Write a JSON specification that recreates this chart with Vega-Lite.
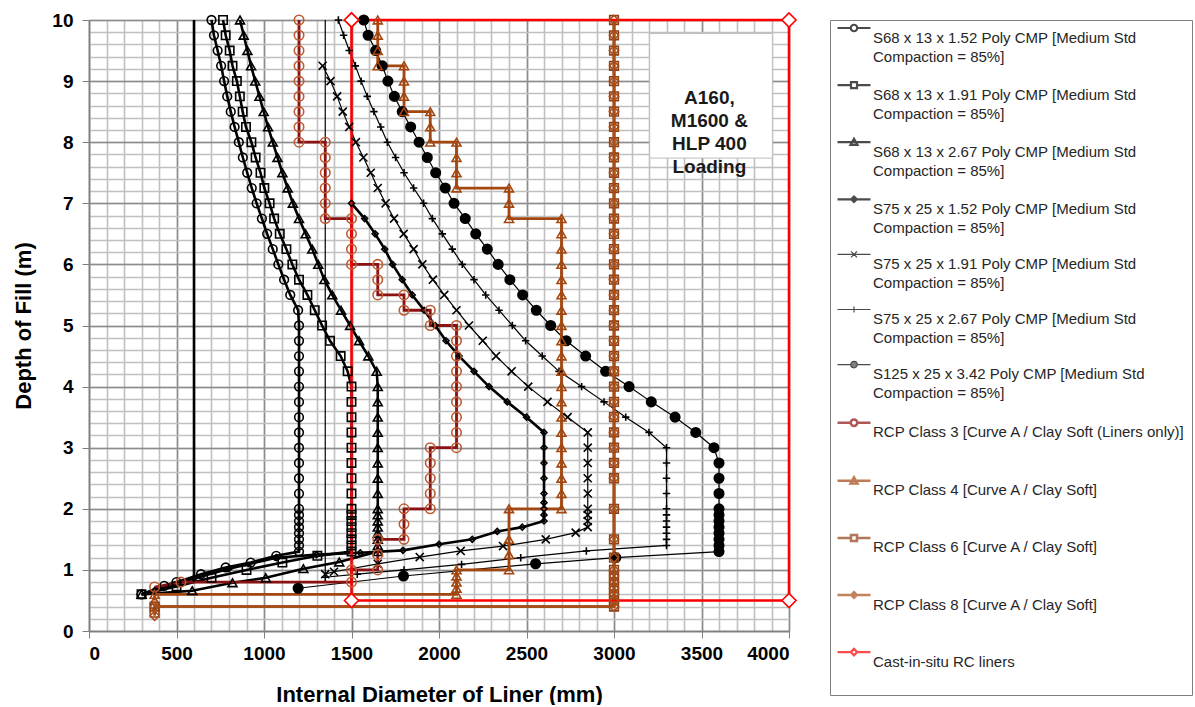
{
"$schema":"https://vega.github.io/schema/vega-lite/v6.json",
"width":700,"height":611,
"padding":{"left":12,"top":9,"right":0,"bottom":0},
"config":{"font":"Liberation Sans","view":{"stroke":null},"style":{"guide-label":{"lineHeight":19}}},
"datasets":{
"ann":[{"x":3204,"x2":3905,"y":9.78,"y2":7.74,"t":"A160,\nM1600 &\nHLP 400\nLoading","tx":3545,"ty":8.72}],
"pts":[
{"s":"a1","x":700,"y":10},{"s":"a1","x":714,"y":9.75},{"s":"a1","x":735,"y":9.5},{"s":"a1","x":755,"y":9.25},{"s":"a1","x":772,"y":9},{"s":"a1","x":790,"y":8.75},{"s":"a1","x":810,"y":8.5},{"s":"a1","x":832,"y":8.25},{"s":"a1","x":856,"y":8},{"s":"a1","x":879,"y":7.75},{"s":"a1","x":904,"y":7.5},{"s":"a1","x":930,"y":7.25},{"s":"a1","x":958,"y":7},{"s":"a1","x":988,"y":6.75},{"s":"a1","x":1018,"y":6.5},{"s":"a1","x":1050,"y":6.25},{"s":"a1","x":1082,"y":6},{"s":"a1","x":1115,"y":5.75},{"s":"a1","x":1150,"y":5.5},{"s":"a1","x":1195,"y":5.25},{"s":"a1","x":1200,"y":5},{"s":"a1","x":1200,"y":4.75},{"s":"a1","x":1200,"y":4.5},{"s":"a1","x":1200,"y":4.25},{"s":"a1","x":1200,"y":4},{"s":"a1","x":1200,"y":3.75},{"s":"a1","x":1200,"y":3.5},{"s":"a1","x":1200,"y":3.25},{"s":"a1","x":1200,"y":3},{"s":"a1","x":1200,"y":2.75},{"s":"a1","x":1200,"y":2.5},{"s":"a1","x":1200,"y":2.25},{"s":"a1","x":1200,"y":2},{"s":"a1","x":1200,"y":1.9},{"s":"a1","x":1200,"y":1.8},{"s":"a1","x":1200,"y":1.7},{"s":"a1","x":1200,"y":1.6},{"s":"a1","x":1200,"y":1.5},{"s":"a1","x":1200,"y":1.4},{"s":"a1","x":1200,"y":1.3},{"s":"a1","x":1070,"y":1.23},{"s":"a1","x":924,"y":1.12},{"s":"a1","x":781,"y":1.04},{"s":"a1","x":640,"y":0.93},{"s":"a1","x":500,"y":0.8},{"s":"a1","x":430,"y":0.74},{"s":"a1","x":300,"y":0.6},
{"s":"a2","x":766,"y":10},{"s":"a2","x":781,"y":9.75},{"s":"a2","x":804,"y":9.5},{"s":"a2","x":820,"y":9.25},{"s":"a2","x":845,"y":9},{"s":"a2","x":862,"y":8.75},{"s":"a2","x":878,"y":8.5},{"s":"a2","x":897,"y":8.25},{"s":"a2","x":928,"y":8},{"s":"a2","x":952,"y":7.75},{"s":"a2","x":980,"y":7.5},{"s":"a2","x":1002,"y":7.25},{"s":"a2","x":1032,"y":7},{"s":"a2","x":1058,"y":6.75},{"s":"a2","x":1090,"y":6.5},{"s":"a2","x":1128,"y":6.25},{"s":"a2","x":1162,"y":6},{"s":"a2","x":1200,"y":5.75},{"s":"a2","x":1248,"y":5.5},{"s":"a2","x":1290,"y":5.25},{"s":"a2","x":1332,"y":5},{"s":"a2","x":1377,"y":4.75},{"s":"a2","x":1438,"y":4.5},{"s":"a2","x":1478,"y":4.25},{"s":"a2","x":1500,"y":4},{"s":"a2","x":1500,"y":3.75},{"s":"a2","x":1500,"y":3.5},{"s":"a2","x":1500,"y":3.25},{"s":"a2","x":1500,"y":3},{"s":"a2","x":1500,"y":2.75},{"s":"a2","x":1500,"y":2.5},{"s":"a2","x":1500,"y":2.25},{"s":"a2","x":1500,"y":2},{"s":"a2","x":1500,"y":1.9},{"s":"a2","x":1500,"y":1.8},{"s":"a2","x":1500,"y":1.7},{"s":"a2","x":1500,"y":1.6},{"s":"a2","x":1500,"y":1.5},{"s":"a2","x":1500,"y":1.4},{"s":"a2","x":1500,"y":1.3},{"s":"a2","x":1305,"y":1.23},{"s":"a2","x":1105,"y":1.12},{"s":"a2","x":900,"y":1},{"s":"a2","x":700,"y":0.87},{"s":"a2","x":500,"y":0.73},{"s":"a2","x":300,"y":0.6},
{"s":"a3","x":863,"y":10},{"s":"a3","x":884,"y":9.75},{"s":"a3","x":905,"y":9.5},{"s":"a3","x":926,"y":9.25},{"s":"a3","x":950,"y":9},{"s":"a3","x":974,"y":8.75},{"s":"a3","x":998,"y":8.5},{"s":"a3","x":1023,"y":8.25},{"s":"a3","x":1050,"y":8},{"s":"a3","x":1077,"y":7.75},{"s":"a3","x":1105,"y":7.5},{"s":"a3","x":1135,"y":7.25},{"s":"a3","x":1165,"y":7},{"s":"a3","x":1200,"y":6.75},{"s":"a3","x":1238,"y":6.5},{"s":"a3","x":1276,"y":6.25},{"s":"a3","x":1310,"y":6},{"s":"a3","x":1345,"y":5.75},{"s":"a3","x":1390,"y":5.5},{"s":"a3","x":1440,"y":5.25},{"s":"a3","x":1492,"y":5},{"s":"a3","x":1543,"y":4.75},{"s":"a3","x":1596,"y":4.5},{"s":"a3","x":1644,"y":4.25},{"s":"a3","x":1650,"y":4},{"s":"a3","x":1650,"y":3.75},{"s":"a3","x":1650,"y":3.5},{"s":"a3","x":1650,"y":3.25},{"s":"a3","x":1650,"y":3},{"s":"a3","x":1650,"y":2.75},{"s":"a3","x":1650,"y":2.5},{"s":"a3","x":1650,"y":2.25},{"s":"a3","x":1650,"y":2},{"s":"a3","x":1650,"y":1.9},{"s":"a3","x":1650,"y":1.8},{"s":"a3","x":1650,"y":1.7},{"s":"a3","x":1650,"y":1.6},{"s":"a3","x":1650,"y":1.5},{"s":"a3","x":1650,"y":1.4},{"s":"a3","x":1650,"y":1.3},{"s":"a3","x":1430,"y":1.13},{"s":"a3","x":1225,"y":1.02},{"s":"a3","x":1010,"y":0.87},{"s":"a3","x":820,"y":0.79},{"s":"a3","x":590,"y":0.66},{"s":"a3","x":300,"y":0.6},
{"s":"a4","x":1500,"y":7},{"s":"a4","x":1575,"y":6.75},{"s":"a4","x":1635,"y":6.5},{"s":"a4","x":1690,"y":6.25},{"s":"a4","x":1735,"y":6},{"s":"a4","x":1790,"y":5.75},{"s":"a4","x":1847,"y":5.5},{"s":"a4","x":1915,"y":5.25},{"s":"a4","x":1978,"y":5},{"s":"a4","x":2040,"y":4.75},{"s":"a4","x":2115,"y":4.5},{"s":"a4","x":2200,"y":4.25},{"s":"a4","x":2286,"y":4},{"s":"a4","x":2390,"y":3.75},{"s":"a4","x":2500,"y":3.5},{"s":"a4","x":2600,"y":3.25},{"s":"a4","x":2600,"y":3},{"s":"a4","x":2600,"y":2.75},{"s":"a4","x":2600,"y":2.5},{"s":"a4","x":2600,"y":2.25},{"s":"a4","x":2600,"y":2.1},{"s":"a4","x":2600,"y":2},{"s":"a4","x":2600,"y":1.9},{"s":"a4","x":2600,"y":1.8},{"s":"a4","x":2476,"y":1.7},{"s":"a4","x":2333,"y":1.63},{"s":"a4","x":2190,"y":1.5},{"s":"a4","x":2000,"y":1.42},{"s":"a4","x":1794,"y":1.32},{"s":"a4","x":1550,"y":1.28},{"s":"a4","x":1300,"y":1.25},{"s":"a4","x":1070,"y":1.2},{"s":"a4","x":800,"y":1.02},{"s":"a4","x":600,"y":0.86},{"s":"a4","x":375,"y":0.66},
{"s":"a5","x":1335,"y":9.25},{"s":"a5","x":1380,"y":9},{"s":"a5","x":1418,"y":8.75},{"s":"a5","x":1450,"y":8.5},{"s":"a5","x":1487,"y":8.25},{"s":"a5","x":1525,"y":8},{"s":"a5","x":1568,"y":7.75},{"s":"a5","x":1610,"y":7.5},{"s":"a5","x":1650,"y":7.25},{"s":"a5","x":1695,"y":7},{"s":"a5","x":1743,"y":6.75},{"s":"a5","x":1798,"y":6.5},{"s":"a5","x":1855,"y":6.25},{"s":"a5","x":1905,"y":6},{"s":"a5","x":1965,"y":5.75},{"s":"a5","x":2030,"y":5.5},{"s":"a5","x":2100,"y":5.25},{"s":"a5","x":2171,"y":5},{"s":"a5","x":2250,"y":4.75},{"s":"a5","x":2326,"y":4.5},{"s":"a5","x":2415,"y":4.25},{"s":"a5","x":2510,"y":4},{"s":"a5","x":2620,"y":3.75},{"s":"a5","x":2735,"y":3.5},{"s":"a5","x":2850,"y":3.25},{"s":"a5","x":2850,"y":3},{"s":"a5","x":2850,"y":2.75},{"s":"a5","x":2850,"y":2.5},{"s":"a5","x":2850,"y":2.25},{"s":"a5","x":2850,"y":2},{"s":"a5","x":2850,"y":1.9},{"s":"a5","x":2850,"y":1.8},{"s":"a5","x":2850,"y":1.7},{"s":"a5","x":2781,"y":1.61},{"s":"a5","x":2610,"y":1.5},{"s":"a5","x":2366,"y":1.39},{"s":"a5","x":2124,"y":1.31},{"s":"a5","x":1890,"y":1.21},{"s":"a5","x":1650,"y":1.1},{"s":"a5","x":1400,"y":0.97},{"s":"a5","x":1350,"y":0.93},
{"s":"a6","x":1425,"y":10},{"s":"a6","x":1455,"y":9.75},{"s":"a6","x":1487,"y":9.5},{"s":"a6","x":1522,"y":9.25},{"s":"a6","x":1555,"y":9},{"s":"a6","x":1590,"y":8.75},{"s":"a6","x":1628,"y":8.5},{"s":"a6","x":1667,"y":8.25},{"s":"a6","x":1705,"y":8},{"s":"a6","x":1752,"y":7.75},{"s":"a6","x":1800,"y":7.5},{"s":"a6","x":1855,"y":7.25},{"s":"a6","x":1912,"y":7},{"s":"a6","x":1962,"y":6.75},{"s":"a6","x":2019,"y":6.5},{"s":"a6","x":2076,"y":6.25},{"s":"a6","x":2133,"y":6},{"s":"a6","x":2200,"y":5.75},{"s":"a6","x":2267,"y":5.5},{"s":"a6","x":2343,"y":5.25},{"s":"a6","x":2419,"y":5},{"s":"a6","x":2495,"y":4.75},{"s":"a6","x":2590,"y":4.5},{"s":"a6","x":2686,"y":4.25},{"s":"a6","x":2815,"y":4},{"s":"a6","x":2943,"y":3.75},{"s":"a6","x":3067,"y":3.5},{"s":"a6","x":3200,"y":3.25},{"s":"a6","x":3300,"y":3},{"s":"a6","x":3300,"y":2.75},{"s":"a6","x":3300,"y":2.5},{"s":"a6","x":3300,"y":2.25},{"s":"a6","x":3300,"y":2},{"s":"a6","x":3300,"y":1.9},{"s":"a6","x":3300,"y":1.8},{"s":"a6","x":3300,"y":1.7},{"s":"a6","x":3300,"y":1.6},{"s":"a6","x":3300,"y":1.5},{"s":"a6","x":3300,"y":1.4},{"s":"a6","x":2842,"y":1.31},{"s":"a6","x":2467,"y":1.2},{"s":"a6","x":2129,"y":1.09},{"s":"a6","x":1800,"y":1},{"s":"a6","x":1533,"y":0.93},{"s":"a6","x":1350,"y":0.88},
{"s":"a7","x":1570,"y":10},{"s":"a7","x":1595,"y":9.75},{"s":"a7","x":1638,"y":9.5},{"s":"a7","x":1676,"y":9.25},{"s":"a7","x":1708,"y":9},{"s":"a7","x":1745,"y":8.75},{"s":"a7","x":1790,"y":8.5},{"s":"a7","x":1838,"y":8.25},{"s":"a7","x":1886,"y":8},{"s":"a7","x":1933,"y":7.75},{"s":"a7","x":1981,"y":7.5},{"s":"a7","x":2036,"y":7.25},{"s":"a7","x":2086,"y":7},{"s":"a7","x":2150,"y":6.75},{"s":"a7","x":2210,"y":6.5},{"s":"a7","x":2276,"y":6.25},{"s":"a7","x":2338,"y":6},{"s":"a7","x":2405,"y":5.75},{"s":"a7","x":2478,"y":5.5},{"s":"a7","x":2556,"y":5.25},{"s":"a7","x":2638,"y":5},{"s":"a7","x":2727,"y":4.75},{"s":"a7","x":2838,"y":4.5},{"s":"a7","x":2952,"y":4.25},{"s":"a7","x":3086,"y":4},{"s":"a7","x":3213,"y":3.75},{"s":"a7","x":3349,"y":3.5},{"s":"a7","x":3467,"y":3.25},{"s":"a7","x":3571,"y":3},{"s":"a7","x":3600,"y":2.75},{"s":"a7","x":3600,"y":2.5},{"s":"a7","x":3600,"y":2.25},{"s":"a7","x":3600,"y":2},{"s":"a7","x":3600,"y":1.9},{"s":"a7","x":3600,"y":1.8},{"s":"a7","x":3600,"y":1.7},{"s":"a7","x":3600,"y":1.6},{"s":"a7","x":3600,"y":1.5},{"s":"a7","x":3600,"y":1.4},{"s":"a7","x":3600,"y":1.3},{"s":"a7","x":3010,"y":1.2},{"s":"a7","x":2552,"y":1.1},{"s":"a7","x":1797,"y":0.9},{"s":"a7","x":1195,"y":0.7},
{"s":"v1","x":600,"y":10},{"s":"v1","x":600,"y":0.8},{"s":"v2","x":1350,"y":10},{"s":"v2","x":1350,"y":0.93},
{"s":"b3","x":1200,"y":10},{"s":"b3","x":1200,"y":9.75},{"s":"b3","x":1200,"y":9.5},{"s":"b3","x":1200,"y":9.25},{"s":"b3","x":1200,"y":9},{"s":"b3","x":1200,"y":8.75},{"s":"b3","x":1200,"y":8.5},{"s":"b3","x":1200,"y":8.25},{"s":"b3","x":1200,"y":8},{"s":"b3","x":1350,"y":8},{"s":"b3","x":1350,"y":7.75},{"s":"b3","x":1350,"y":7.5},{"s":"b3","x":1350,"y":7.25},{"s":"b3","x":1350,"y":7},{"s":"b3","x":1350,"y":6.75},{"s":"b3","x":1500,"y":6.75},{"s":"b3","x":1500,"y":6.5},{"s":"b3","x":1500,"y":6.25},{"s":"b3","x":1500,"y":6},{"s":"b3","x":1650,"y":6},{"s":"b3","x":1650,"y":5.75},{"s":"b3","x":1650,"y":5.5},{"s":"b3","x":1800,"y":5.5},{"s":"b3","x":1800,"y":5.25},{"s":"b3","x":1950,"y":5.25},{"s":"b3","x":1950,"y":5},{"s":"b3","x":2100,"y":5},{"s":"b3","x":2100,"y":4.75},{"s":"b3","x":2100,"y":4.5},{"s":"b3","x":2100,"y":4.25},{"s":"b3","x":2100,"y":4},{"s":"b3","x":2100,"y":3.75},{"s":"b3","x":2100,"y":3.5},{"s":"b3","x":2100,"y":3.25},{"s":"b3","x":2100,"y":3},{"s":"b3","x":1950,"y":3},{"s":"b3","x":1950,"y":2.75},{"s":"b3","x":1950,"y":2.5},{"s":"b3","x":1950,"y":2.25},{"s":"b3","x":1950,"y":2},{"s":"b3","x":1800,"y":2},{"s":"b3","x":1800,"y":1.75},{"s":"b3","x":1800,"y":1.5},{"s":"b3","x":1650,"y":1.5},{"s":"b3","x":1650,"y":1.25},{"s":"b3","x":1650,"y":1},{"s":"b3","x":1500,"y":1},{"s":"b3","x":1500,"y":0.8},{"s":"b3","x":525,"y":0.8},{"s":"b3","x":375,"y":0.72},
{"s":"b4","x":1650,"y":10},{"s":"b4","x":1650,"y":9.75},{"s":"b4","x":1650,"y":9.5},{"s":"b4","x":1650,"y":9.25},{"s":"b4","x":1800,"y":9.25},{"s":"b4","x":1800,"y":9},{"s":"b4","x":1800,"y":8.75},{"s":"b4","x":1800,"y":8.5},{"s":"b4","x":1950,"y":8.5},{"s":"b4","x":1950,"y":8.25},{"s":"b4","x":1950,"y":8},{"s":"b4","x":2100,"y":8},{"s":"b4","x":2100,"y":7.75},{"s":"b4","x":2100,"y":7.5},{"s":"b4","x":2100,"y":7.25},{"s":"b4","x":2400,"y":7.25},{"s":"b4","x":2400,"y":7},{"s":"b4","x":2400,"y":6.75},{"s":"b4","x":2700,"y":6.75},{"s":"b4","x":2700,"y":6.5},{"s":"b4","x":2700,"y":6.25},{"s":"b4","x":2700,"y":6},{"s":"b4","x":2700,"y":5.75},{"s":"b4","x":2700,"y":5.5},{"s":"b4","x":2700,"y":5.25},{"s":"b4","x":2700,"y":5},{"s":"b4","x":2700,"y":4.75},{"s":"b4","x":2700,"y":4.5},{"s":"b4","x":2700,"y":4.25},{"s":"b4","x":2700,"y":4},{"s":"b4","x":2700,"y":3.75},{"s":"b4","x":2700,"y":3.5},{"s":"b4","x":2700,"y":3.25},{"s":"b4","x":2700,"y":3},{"s":"b4","x":2700,"y":2.75},{"s":"b4","x":2700,"y":2.5},{"s":"b4","x":2700,"y":2.25},{"s":"b4","x":2700,"y":2},{"s":"b4","x":2400,"y":2},{"s":"b4","x":2400,"y":1.5},{"s":"b4","x":2400,"y":1.25},{"s":"b4","x":2400,"y":1},{"s":"b4","x":2100,"y":1},{"s":"b4","x":2100,"y":0.9},{"s":"b4","x":2100,"y":0.8},{"s":"b4","x":2100,"y":0.7},{"s":"b4","x":2100,"y":0.6},{"s":"b4","x":375,"y":0.6},{"s":"b4","x":375,"y":0.5},
{"s":"b6","x":3000,"y":10},{"s":"b6","x":3000,"y":9.75},{"s":"b6","x":3000,"y":9.5},{"s":"b6","x":3000,"y":9.25},{"s":"b6","x":3000,"y":9},{"s":"b6","x":3000,"y":8.75},{"s":"b6","x":3000,"y":8.5},{"s":"b6","x":3000,"y":8.25},{"s":"b6","x":3000,"y":8},{"s":"b6","x":3000,"y":7.75},{"s":"b6","x":3000,"y":7.5},{"s":"b6","x":3000,"y":7.25},{"s":"b6","x":3000,"y":7},{"s":"b6","x":3000,"y":6.75},{"s":"b6","x":3000,"y":6.5},{"s":"b6","x":3000,"y":6.25},{"s":"b6","x":3000,"y":6},{"s":"b6","x":3000,"y":5.75},{"s":"b6","x":3000,"y":5.5},{"s":"b6","x":3000,"y":5.25},{"s":"b6","x":3000,"y":5},{"s":"b6","x":3000,"y":4.75},{"s":"b6","x":3000,"y":4.5},{"s":"b6","x":3000,"y":4.25},{"s":"b6","x":3000,"y":4},{"s":"b6","x":3000,"y":3.75},{"s":"b6","x":3000,"y":3.5},{"s":"b6","x":3000,"y":3.25},{"s":"b6","x":3000,"y":3},{"s":"b6","x":3000,"y":2.75},{"s":"b6","x":3000,"y":2.5},{"s":"b6","x":3000,"y":2},{"s":"b6","x":3000,"y":1.5},{"s":"b6","x":3000,"y":1.2},{"s":"b6","x":3000,"y":1},{"s":"b6","x":3000,"y":0.9},{"s":"b6","x":3000,"y":0.8},{"s":"b6","x":3000,"y":0.7},{"s":"b6","x":3000,"y":0.6},{"s":"b6","x":3000,"y":0.5},{"s":"b6","x":3000,"y":0.4},{"s":"b6","x":375,"y":0.4},{"s":"b6","x":375,"y":0.3},
{"s":"b8","x":3000,"y":10},{"s":"b8","x":3000,"y":9.75},{"s":"b8","x":3000,"y":9.5},{"s":"b8","x":3000,"y":9.25},{"s":"b8","x":3000,"y":9},{"s":"b8","x":3000,"y":8.75},{"s":"b8","x":3000,"y":8.5},{"s":"b8","x":3000,"y":8.25},{"s":"b8","x":3000,"y":8},{"s":"b8","x":3000,"y":7.75},{"s":"b8","x":3000,"y":7.5},{"s":"b8","x":3000,"y":7.25},{"s":"b8","x":3000,"y":7},{"s":"b8","x":3000,"y":6.75},{"s":"b8","x":3000,"y":6.5},{"s":"b8","x":3000,"y":6.25},{"s":"b8","x":3000,"y":6},{"s":"b8","x":3000,"y":5.75},{"s":"b8","x":3000,"y":5.5},{"s":"b8","x":3000,"y":5.25},{"s":"b8","x":3000,"y":5},{"s":"b8","x":3000,"y":4.75},{"s":"b8","x":3000,"y":4.5},{"s":"b8","x":3000,"y":4.25},{"s":"b8","x":3000,"y":4},{"s":"b8","x":3000,"y":3.75},{"s":"b8","x":3000,"y":3.5},{"s":"b8","x":3000,"y":3.25},{"s":"b8","x":3000,"y":3},{"s":"b8","x":3000,"y":2.75},{"s":"b8","x":3000,"y":2.5},{"s":"b8","x":3000,"y":2},{"s":"b8","x":3000,"y":1.5},{"s":"b8","x":3000,"y":1.2},{"s":"b8","x":3000,"y":1},{"s":"b8","x":3000,"y":0.9},{"s":"b8","x":3000,"y":0.8},{"s":"b8","x":3000,"y":0.7},{"s":"b8","x":3000,"y":0.6},{"s":"b8","x":3000,"y":0.5},{"s":"b8","x":3000,"y":0.4},{"s":"b8","x":375,"y":0.4},{"s":"b8","x":375,"y":0.25},
{"s":"c","x":1500,"y":10},{"s":"c","x":1500,"y":0.5},{"s":"c","x":4000,"y":0.5},{"s":"c","x":4000,"y":10},{"s":"c","x":1500,"y":10}
]},
"layer":[
{"data":{"name":"ann"},
 "mark":{"type":"rect","fill":"white","stroke":"#bdbdbd","strokeWidth":1},
 "encoding":{
  "x":{"field":"x","type":"quantitative","scale":{"domain":[0,4000],"nice":false,"zero":false},
   "axis":{"orient":"top","values":[0,100,200,300,400,500,600,700,800,900,1000,1100,1200,1300,1400,1500,1600,1700,1800,1900,2000,2100,2200,2300,2400,2500,2600,2700,2800,2900,3000,3100,3200,3300,3400,3500,3600,3700,3800,3900,4000],"labels":false,"ticks":false,"domain":false,"grid":true,"gridColor":"#c0c0c0","gridWidth":1.6,"title":null}},
  "x2":{"field":"x2"},
  "y":{"field":"y","type":"quantitative","scale":{"domain":[0,10],"nice":false,"zero":false},
   "axis":{"orient":"right","values":[0,0.2,0.4,0.6,0.8,1,1.2,1.4,1.6,1.8,2,2.2,2.4,2.6,2.8,3,3.2,3.4,3.6,3.8,4,4.2,4.4,4.6,4.8,5,5.2,5.4,5.6,5.8,6,6.2,6.4,6.6,6.8,7,7.2,7.4,7.6,7.8,8,8.2,8.4,8.6,8.8,9,9.2,9.4,9.6,9.8,10],"labels":false,"ticks":false,"domain":false,"grid":true,"gridColor":"#c0c0c0","gridWidth":1.6,"title":null}},
  "y2":{"field":"y2"}}},
{"data":{"name":"pts"},
 "mark":{"type":"line","interpolate":"linear"},
 "encoding":{
  "x":{"field":"x","type":"quantitative","scale":{"domain":[0,4000],"nice":false,"zero":false},
   "axis":{"orient":"bottom","values":[0,500,1000,1500,2000,2500,3000,3500,4000],"format":"d","grid":true,"gridColor":"#8c8c8c","gridWidth":1.5,"domainColor":"#7f7f7f","domainWidth":1.5,"tickColor":"#7f7f7f","tickSize":7,"labelFontSize":19,"labelFontWeight":"bold","labelColor":"#000","labelPadding":6,"title":"Internal Diameter of Liner (mm)","titleFontSize":22,"titleFontWeight":"bold","titleColor":"#000","titlePadding":21}},
  "y":{"field":"y","type":"quantitative","scale":{"domain":[0,10],"nice":false,"zero":false},
   "axis":{"orient":"left","values":[0,1,2,3,4,5,6,7,8,9,10],"format":"d","grid":true,"gridColor":"#8c8c8c","gridWidth":1.5,"domainColor":"#7f7f7f","domainWidth":1.5,"tickColor":"#7f7f7f","tickSize":7,"labelFontSize":19,"labelFontWeight":"bold","labelColor":"#000","labelPadding":9,"title":"Depth of Fill (m)","titleFontSize":22,"titleFontWeight":"bold","titleColor":"#000","titlePadding":16}},
  "detail":{"field":"s"},
  "order":{"value":null},
  "stroke":{"field":"s","type":"nominal","legend":null,"scale":{"domain":["a1","a2","a3","a4","a5","a6","a7","v1","v2","b3","b4","b6","b8","c"],"range":["#000","#000","#000","#000","#000","#000","#000","#000","#000","#8b1212","#a3460f","#8f3f14","#a84e18","#ff0000"]}},
  "strokeWidth":{"field":"s","type":"nominal","legend":null,"scale":{"type":"ordinal","domain":["a1","a2","a3","a4","a5","a6","a7","v1","v2","b3","b4","b6","b8","c"],"range":[2.6,2.6,2.6,2.6,1.2,1.2,1.2,2.6,1.2,2.8,2.8,2.8,2.8,2.6]}}}},
{"data":{"name":"pts"},
 "transform":[{"filter":"datum.s != 'v1' && datum.s != 'v2'"}],
 "mark":{"type":"point","strokeWidth":1.6,"opacity":1},
 "encoding":{
  "x":{"field":"x","type":"quantitative","axis":null},
  "y":{"field":"y","type":"quantitative","axis":null},
  "stroke":{"field":"s","type":"nominal","legend":null,"scale":{"domain":["a1","a2","a3","a4","a5","a6","a7","b3","b4","b6","b8","c"],"range":["#000","#000","#000","#000","#000","#000","#000","#bd5a32","#a3460f","#8f3f14","#a84e18","#ff0000"]}},
  "fill":{"field":"s","type":"nominal","legend":null,"scale":{"domain":["a1","a2","a3","a4","a5","a6","a7","b3","b4","b6","b8","c"],"range":["transparent","transparent","transparent","transparent","transparent","transparent","#000","transparent","transparent","transparent","transparent","white"]}},
  "shape":{"field":"s","type":"nominal","legend":null,"scale":{"domain":["a1","a2","a3","a4","a5","a6","a7","b3","b4","b6","b8","c"],"range":["circle","square","triangle-up","diamond","M-1,-1L1,1M-1,1L1,-1","M-1,0L1,0M0,-1L0,1","circle","circle","triangle-up","square","diamond","diamond"]}},
  "size":{"field":"s","type":"nominal","legend":null,"scale":{"type":"ordinal","domain":["a1","a2","a3","a4","a5","a6","a7","b3","b4","b6","b8","c"],"range":[75,70,80,35,65,55,90,90,80,75,85,200]}}}},
{"data":{"name":"ann"},
 "mark":{"type":"text","fontSize":19,"fontWeight":"bold","color":"#1a1a1a","lineBreak":"\n","lineHeight":23,"align":"center","baseline":"middle"},
 "encoding":{
  "x":{"field":"tx","type":"quantitative","axis":null},
  "y":{"field":"ty","type":"quantitative","axis":null},
  "text":{"field":"t"}}},
{"data":{"values":[{"s":"a1"}]},
 "transform":[{"filter":"false"}],
 "mark":{"type":"point"},
 "encoding":{
  "stroke":{"field":"s","type":"nominal","scale":{"domain":["a1","a2","a3","a4","a5","a6","a7","b3","b4","b6","b8","c"],"range":["#000","#000","#000","#000","#000","#000","#000","#8b1212","#a3460f","#8f3f14","#a84e18","#ff0000"]},
   "legend":{"title":" ","titleFontSize":2,"titlePadding":2,"orient":"right","offset":35,"padding":6,"strokeColor":"#7f7f7f","fillColor":"white","labelFontSize":15,"labelColor":"#262626","labelLimit":400,"rowPadding":12.1,"symbolSize":100,"symbolOffset":10.5,"labelOffset":11.5,
    "labelExpr":"datum.value=='a1'?['S68 x 13 x 1.52 Poly CMP [Medium Std','Compaction = 85%]']:datum.value=='a2'?['S68 x 13 x 1.91 Poly CMP [Medium Std','Compaction = 85%]']:datum.value=='a3'?['S68 x 13 x 2.67 Poly CMP [Medium Std','Compaction = 85%]']:datum.value=='a4'?['S75 x 25 x 1.52 Poly CMP [Medium Std','Compaction = 85%]']:datum.value=='a5'?['S75 x 25 x 1.91 Poly CMP [Medium Std','Compaction = 85%]']:datum.value=='a6'?['S75 x 25 x 2.67 Poly CMP [Medium Std','Compaction = 85%]']:datum.value=='a7'?['S125 x 25 x 3.42 Poly CMP [Medium Std','Compaction = 85%]']:datum.value=='b3'?['RCP Class 3 [Curve A / Clay Soft (Liners only)]',' ']:datum.value=='b4'?['RCP Class 4 [Curve A / Clay Soft]',' ']:datum.value=='b6'?['RCP Class 6 [Curve A / Clay Soft]',' ']:datum.value=='b8'?['RCP Class 8 [Curve A / Clay Soft]',' ']:['Cast-in-situ RC liners',' ']"}},
  "fill":{"field":"s","type":"nominal","legend":{"title":" "},"scale":{"domain":["a1","a2","a3","a4","a5","a6","a7","b3","b4","b6","b8","c"],"range":["transparent","transparent","transparent","transparent","transparent","transparent","#000","transparent","transparent","transparent","transparent","transparent"]}},
  "shape":{"field":"s","type":"nominal","legend":{"title":" "},"scale":{"domain":["a1","a2","a3","a4","a5","a6","a7","b3","b4","b6","b8","c"],"range":[
   "M-3.3,-1.9L-0.65,-1.9M0.65,-1.9L3.3,-1.9M-0.65,-1.9A0.65,0.65 0 1 0 0.65,-1.9A0.65,0.65 0 1 0 -0.65,-1.9Z",
   "M-3.3,-1.9L-0.6,-1.9M0.6,-1.9L3.3,-1.9M-0.6,-2.5L0.6,-2.5L0.6,-1.3L-0.6,-1.3Z",
   "M-3.3,-1.9L3.3,-1.9M0,-2.6L0.7,-1.35L-0.7,-1.35Z",
   "M-3.3,-1.9L3.3,-1.9M0,-2.45L0.55,-1.9L0,-1.35L-0.55,-1.9Z",
   "M-3.3,-1.9L3.3,-1.9M-0.6,-2.5L0.6,-1.3M-0.6,-1.3L0.6,-2.5",
   "M-3.3,-1.9L3.3,-1.9M0,-2.5L0,-1.3",
   "M-3.3,-1.9L-0.65,-1.9M0.65,-1.9L3.3,-1.9M-0.65,-1.9A0.65,0.65 0 1 0 0.65,-1.9A0.65,0.65 0 1 0 -0.65,-1.9Z",
   "M-3.3,-1.9L-0.65,-1.9M0.65,-1.9L3.3,-1.9M-0.65,-1.9A0.65,0.65 0 1 0 0.65,-1.9A0.65,0.65 0 1 0 -0.65,-1.9Z",
   "M-3.3,-1.9L3.3,-1.9M0,-2.6L0.7,-1.35L-0.7,-1.35Z",
   "M-3.3,-1.9L-0.6,-1.9M0.6,-1.9L3.3,-1.9M-0.6,-2.5L0.6,-2.5L0.6,-1.3L-0.6,-1.3Z",
   "M-3.3,-1.9L3.3,-1.9M0,-2.45L0.55,-1.9L0,-1.35L-0.55,-1.9Z",
   "M-3.3,-1.9L-0.65,-1.9M0.65,-1.9L3.3,-1.9M0,-2.55L0.65,-1.9L0,-1.25L-0.65,-1.9Z"]}},
  "strokeWidth":{"field":"s","type":"nominal","legend":{"title":" "},"scale":{"type":"ordinal","domain":["a1","a2","a3","a4","a5","a6","a7","b3","b4","b6","b8","c"],"range":[2.2,2.2,2.2,2.2,1.2,1.2,1.2,2.5,2.5,2.5,2.5,2.2]}}}}
],
"resolve":{"scale":{"stroke":"independent","fill":"independent","shape":"independent","size":"independent","strokeWidth":"independent"},"axis":{"x":"independent","y":"independent"}}
}
